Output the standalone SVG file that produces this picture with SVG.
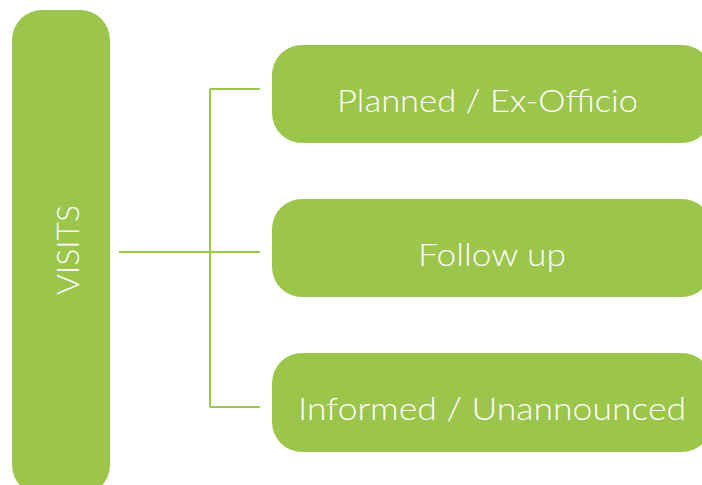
<svg xmlns="http://www.w3.org/2000/svg" width="702" height="485" viewBox="0 0 702 485">
<style>
.box{fill:#9BC54B}
.t{fill:#ffffff;font-family:Lato,"Open Sans","Liberation Sans",sans-serif;font-weight:300;font-size:32px;text-anchor:middle;dominant-baseline:central}
.c{stroke:#9BC54B;stroke-width:2;fill:none}
</style>
<rect width="702" height="485" fill="#ffffff"/>
<g id="visits">
<rect class="box" x="12" y="10" width="98" height="485" rx="30"/>
<text class="t" transform="translate(66 250) rotate(-90)" textLength="90" lengthAdjust="spacingAndGlyphs">VISITS</text>
</g>
<g id="connectors">
<path class="c" d="M119 252H260M210 89V407M210 89H260M210 407H260"/>
</g>
<g id="planned">
<rect class="box" x="272" y="45" width="440" height="98" rx="30"/>
<text class="t" x="487.5" y="99" textLength="301" lengthAdjust="spacingAndGlyphs">Planned / Ex-Officio</text>
</g>
<g id="followup">
<rect class="box" x="272" y="199" width="440" height="98" rx="30"/>
<text class="t" x="492" y="253" textLength="148" lengthAdjust="spacingAndGlyphs">Follow up</text>
</g>
<g id="informed">
<rect class="box" x="272" y="353" width="440" height="99" rx="30"/>
<text class="t" x="492" y="407" textLength="388" lengthAdjust="spacingAndGlyphs">Informed / Unannounced</text>
</g>
</svg>
